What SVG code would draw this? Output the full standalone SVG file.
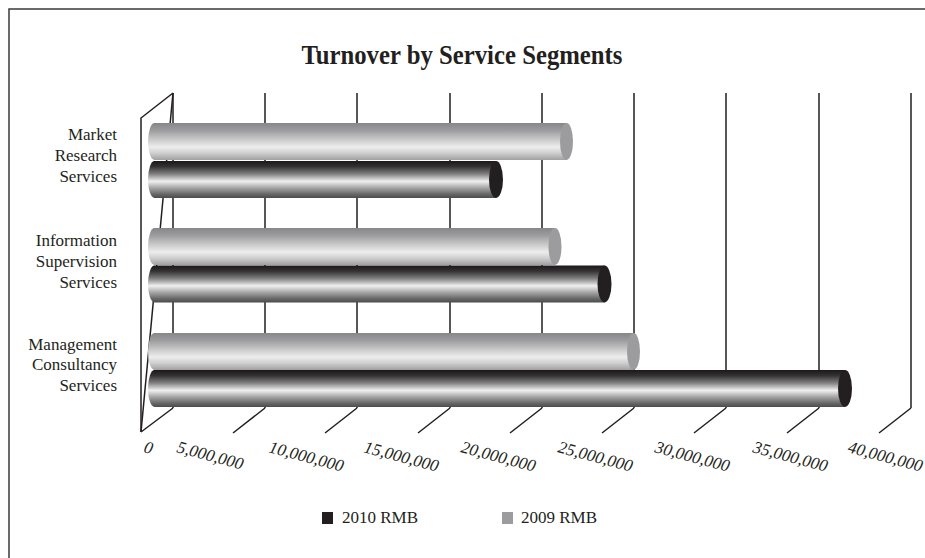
<svg xmlns="http://www.w3.org/2000/svg" width="925" height="558" viewBox="0 0 925 558">
  <defs>
    <linearGradient id="gGray" x1="0" y1="0" x2="0" y2="1">
      <stop offset="0" stop-color="#87878a"/>
      <stop offset="0.2" stop-color="#9c9c9e"/>
      <stop offset="0.45" stop-color="#cacaca"/>
      <stop offset="0.65" stop-color="#ededed"/>
      <stop offset="0.82" stop-color="#cdcdcd"/>
      <stop offset="1" stop-color="#a0a0a2"/>
    </linearGradient>
    <linearGradient id="gDark" x1="0" y1="0" x2="0" y2="1">
      <stop offset="0" stop-color="#1c1819"/>
      <stop offset="0.15" stop-color="#333132"/>
      <stop offset="0.35" stop-color="#808080"/>
      <stop offset="0.55" stop-color="#f0f0f0"/>
      <stop offset="0.72" stop-color="#a8a8a8"/>
      <stop offset="0.9" stop-color="#666666"/>
      <stop offset="1" stop-color="#4c4c4c"/>
    </linearGradient>
  </defs>
  <style>
    .frame { fill: none; stroke: #3a3a3a; stroke-width: 1.5; }
    .grid { fill: none; stroke: #231f20; stroke-width: 1.5; }
    .title { font-family: "Liberation Serif", "Times New Roman", serif; font-weight: bold; font-size: 27px; fill: #231f20; }
    .cat { font-family: "Liberation Serif", "Times New Roman", serif; font-size: 17px; fill: #231f20; text-anchor: end; }
    .tick { font-family: "Liberation Serif", "Times New Roman", serif; font-style: italic; font-size: 17px; fill: #231f20; }
    .leg { font-family: "Liberation Serif", "Times New Roman", serif; font-size: 17px; fill: #231f20; }
    .grayBody { fill: url(#gGray); }
    .darkBody { fill: url(#gDark); }
    .grayCap { fill: #9c9c9e; }
    .darkCap { fill: #231f20; }
  </style>

  <rect width="925" height="558" fill="#ffffff"/>
  <g id="frame">
    <path class="frame" d="M9,558 V9 H925"/>
  </g>

  <g id="title">
    <text class="title" x="462" y="64" text-anchor="middle" textLength="321" lengthAdjust="spacingAndGlyphs">Turnover by Service Segments</text>
  </g>

  <g id="connectors">
    <!-- left wall -->
    <path class="grid" d="M141,432 V118 L173,93"/>
    <path class="grid" d="M173,93 L141,432"/>
    <!-- vertical gridlines -->
    <path class="grid" d="M173,93 V408 M265,93 V408 M357,93 V408 M450,93 V408 M542,93 V408 M634,93 V408 M726,93 V408 M819,93 V408 M911,93 V408"/>
    <!-- floor ticks -->
    <path class="grid" d="M173,408 L141,432 M265,408 L233,433 M357,408 L325,433 M450,408 L418,433 M542,408 L510,433 M634,408 L602,433 M726,408 L694,433 M819,408 L787,433 M911,408 L879,433"/>
  </g>

  <g id="bar-market-2009">
    <path class="grayBody" d="M154.5,123 H566.5 V160 H154.5 A6.5,18.5 0 0 1 154.5,123 Z"/>
    <ellipse class="grayCap" cx="566.5" cy="141.5" rx="6.5" ry="18.5"/>
  </g>
  <g id="bar-market-2010">
    <path class="darkBody" d="M154.5,161 H496 V198 H154.5 A6.5,18.5 0 0 1 154.5,161 Z"/>
    <ellipse class="darkCap" cx="496" cy="179.5" rx="7" ry="18.5"/>
  </g>
  <g id="bar-info-2009">
    <path class="grayBody" d="M154.5,228 H555 V265 H154.5 A6.5,18.5 0 0 1 154.5,228 Z"/>
    <ellipse class="grayCap" cx="555" cy="246.5" rx="6.5" ry="18.5"/>
  </g>
  <g id="bar-info-2010">
    <path class="darkBody" d="M154.5,265.5 H604.5 V302.5 H154.5 A6.5,18.5 0 0 1 154.5,265.5 Z"/>
    <ellipse class="darkCap" cx="604.5" cy="284" rx="7" ry="18.5"/>
  </g>
  <g id="bar-mgmt-2009">
    <path class="grayBody" d="M154.5,333 H633.5 V370 H154.5 A6.5,18.5 0 0 1 154.5,333 Z"/>
    <ellipse class="grayCap" cx="633.5" cy="351.5" rx="6.5" ry="18.5"/>
  </g>
  <g id="bar-mgmt-2010">
    <path class="darkBody" d="M154.5,370 H845 V407 H154.5 A6.5,18.5 0 0 1 154.5,370 Z"/>
    <ellipse class="darkCap" cx="845" cy="388.5" rx="7" ry="18.5"/>
  </g>

  <g id="category-labels">
    <text class="cat" x="117" y="140">Market</text>
    <text class="cat" x="117" y="161">Research</text>
    <text class="cat" x="117" y="182">Services</text>
    <text class="cat" x="117" y="246">Information</text>
    <text class="cat" x="117" y="267">Supervision</text>
    <text class="cat" x="117" y="288">Services</text>
    <text class="cat" x="117" y="350">Management</text>
    <text class="cat" x="117" y="370">Consultancy</text>
    <text class="cat" x="117" y="391">Services</text>
  </g>

  <g id="axis-labels">
    <text class="tick" transform="translate(143,452) rotate(15)">0</text>
    <text class="tick" transform="translate(176,452) rotate(15)">5,000,000</text>
    <text class="tick" transform="translate(268,452) rotate(15)">10,000,000</text>
    <text class="tick" transform="translate(363,452) rotate(15)">15,000,000</text>
    <text class="tick" transform="translate(460,452) rotate(15)">20,000,000</text>
    <text class="tick" transform="translate(557,452) rotate(15)">25,000,000</text>
    <text class="tick" transform="translate(654,452) rotate(15)">30,000,000</text>
    <text class="tick" transform="translate(752,452) rotate(15)">35,000,000</text>
    <text class="tick" transform="translate(847,452) rotate(15)">40,000,000</text>
  </g>

  <g id="legend">
    <rect x="322" y="512" width="11" height="12" fill="#231f20"/>
    <text class="leg" x="342" y="523">2010 RMB</text>
    <rect x="502" y="512" width="11" height="12" fill="#9c9c9e"/>
    <text class="leg" x="521" y="523">2009 RMB</text>
  </g>
</svg>
